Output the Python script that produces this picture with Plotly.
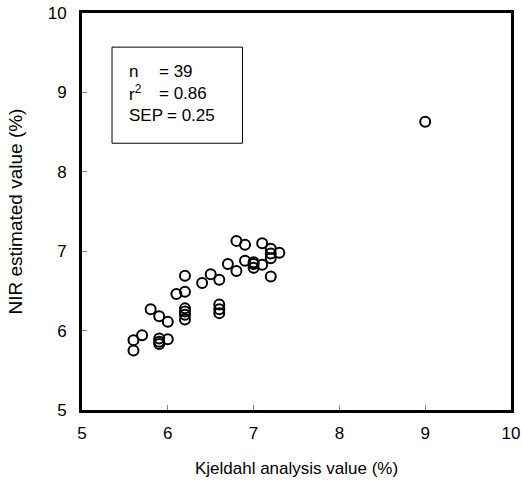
import plotly.graph_objects as go

kjeldahl = [5.6, 5.6, 5.7, 5.8, 5.9, 6.0, 5.9, 5.9, 5.9, 6.0,
            6.1, 6.2, 6.2, 6.2, 6.2, 6.2, 6.2, 6.4, 6.5, 6.6,
            6.6, 6.6, 6.6, 6.7, 6.8, 6.8, 6.9, 6.9, 7.0, 7.0,
            7.0, 7.1, 7.1, 7.2, 7.2, 7.2, 7.2, 7.3, 9.0]
nir = [5.88, 5.75, 5.94, 6.27, 6.18, 6.11, 5.90, 5.83, 5.86, 5.89,
       6.46, 6.49, 6.69, 6.28, 6.24, 6.20, 6.14, 6.60, 6.71, 6.64,
       6.33, 6.27, 6.22, 6.84, 6.75, 7.13, 7.08, 6.88, 6.86, 6.84,
       6.79, 7.10, 6.83, 7.03, 6.97, 6.91, 6.68, 6.98, 8.63]

tick_vals = [5, 6, 7, 8, 9, 10]
stat_names = ["n", "r<sup>2</sup>", "SEP"]
stat_values = ["= 39", "= 0.86", "= 0.25"]

FONT = "Liberation Sans, Arial, sans-serif"

fig = go.Figure()
fig.add_trace(go.Scatter(
    x=kjeldahl, y=nir, mode="markers",
    marker=dict(symbol="circle-open", size=10, color="black",
                line=dict(width=2, color="black")),
    showlegend=False, hoverinfo="x+y"))

axis_common = dict(
    range=[5, 10], tickvals=tick_vals, ticktext=[str(v) for v in tick_vals],
    showgrid=False, zeroline=False, showline=True, linecolor="black",
    linewidth=3, mirror=True, ticks="inside", ticklen=5, tickwidth=1,
    tickcolor="#888888", tickfont=dict(family=FONT, size=17, color="black"),
    automargin=False,
)

fig.update_layout(
    width=522, height=502,
    margin=dict(l=82, r=11, t=13, b=92),
    paper_bgcolor="white", plot_bgcolor="white",
    font=dict(family=FONT, color="black"),
    xaxis=dict(**axis_common, ticklabelstandoff=6,
               title=dict(text="Kjeldahl analysis value (%)",
                          font=dict(family=FONT, size=17), standoff=20)),
    yaxis=dict(**axis_common, ticklabelstandoff=9,
               title=dict(text="NIR estimated value (%)",
                          font=dict(family=FONT, size=19), standoff=21)),
)

# statistics box
fig.add_shape(type="rect", xref="x", yref="y", x0=5.35, x1=6.87, y0=8.36, y1=9.57,
              line=dict(color="black", width=1), fillcolor="white", layer="below")
ys = [9.257, 8.99, 8.715]
for i, (nm, val) in enumerate(zip(stat_names, stat_values)):
    fig.add_annotation(x=5.52, y=ys[i], xref="x", yref="y", text=nm,
                       showarrow=False, xanchor="left", yanchor="middle",
                       font=dict(family=FONT, size=17, color="black"))
    fig.add_annotation(x=5.87 if i < 2 else 5.97, y=ys[i], xref="x", yref="y",
                       text=val, showarrow=False, xanchor="left", yanchor="middle",
                       font=dict(family=FONT, size=17, color="black"))

fig.write_html("out.html", config={"displayModeBar": False},
               post_script="document.body.style.margin='0';document.body.style.overflow='hidden';")
